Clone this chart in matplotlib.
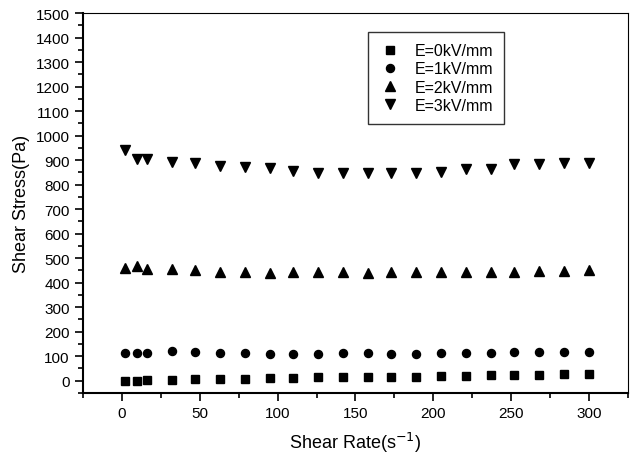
import matplotlib
matplotlib.use("Agg")
import matplotlib.pyplot as plt
from matplotlib.ticker import MultipleLocator

plt.rcParams['font.family'] = ['Liberation Sans', 'DejaVu Sans']

shear_rate = [2, 10, 16, 32, 47, 63, 79, 95, 110, 126, 142, 158, 173, 189, 205, 221, 237, 252, 268, 284, 300]
stress_0kV = [-2, 0, 3, 3, 5, 8, 8, 11, 12, 14, 14, 15, 16, 17, 18, 20, 22, 24, 25, 27, 28]
stress_1kV = [112, 114, 112, 120, 117, 112, 112, 110, 110, 111, 112, 112, 110, 110, 112, 112, 114, 117, 117, 117, 117]
stress_2kV = [458, 467, 454, 456, 452, 444, 444, 440, 443, 443, 443, 440, 443, 443, 443, 443, 443, 445, 448, 448, 452]
stress_3kV = [941, 903, 903, 892, 887, 876, 872, 869, 855, 846, 849, 846, 849, 849, 851, 862, 865, 883, 883, 890, 890]

labels = ['E=0kV/mm', 'E=1kV/mm', 'E=2kV/mm', 'E=3kV/mm']
series = [stress_0kV, stress_1kV, stress_2kV, stress_3kV]
markers = ['s', 'o', '^', 'v']
sizes = [5.3, 5.8, 6.5, 6.5]

fig = plt.figure(figsize=(6.3, 4.64), dpi=100)
ax = fig.add_axes([0.1317, 0.1509, 0.8651, 0.8189])

for ys, lab, m, s in zip(series, labels, markers, sizes):
    ax.plot(shear_rate, ys, linestyle='none', marker=m, markersize=s,
            color='black', label=lab)

ax.set_xlim(-25, 325)
ax.set_ylim(-50, 1500)
ax.xaxis.set_major_locator(MultipleLocator(50))
ax.xaxis.set_minor_locator(MultipleLocator(25))
ax.yaxis.set_major_locator(MultipleLocator(100))
ax.yaxis.set_minor_locator(MultipleLocator(50))
ax.tick_params(which='both', direction='out', top=False, right=False,
               labelsize=11, width=1.2)
ax.tick_params(which='major', length=6)
ax.tick_params(which='minor', length=3.5)
ax.spines['left'].set_linewidth(1.5)
ax.spines['bottom'].set_linewidth(1.5)
ax.spines['top'].set_linewidth(0.8)
ax.spines['right'].set_linewidth(0.8)

ax.set_xlabel('Shear Rate(s$^{-1}$)', fontsize=13, labelpad=7)
ax.set_ylabel('Shear Stress(Pa)', fontsize=13, labelpad=4)

leg = ax.legend(loc='upper left', bbox_to_anchor=(0.523, 0.95), fontsize=11.5,
                frameon=True, fancybox=False, edgecolor='black',
                handletextpad=0.8, borderpad=0.7, labelspacing=0.2,
                handlelength=1.4, borderaxespad=0)
leg.get_frame().set_linewidth(1.0)

fig.savefig('out.png', dpi=100)
